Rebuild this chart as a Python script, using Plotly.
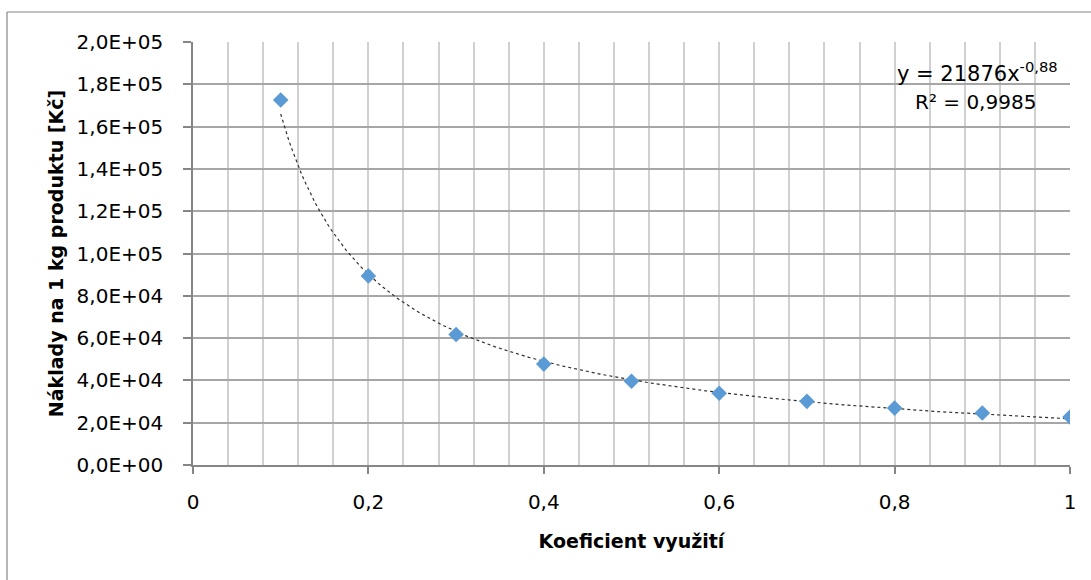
import numpy as np
import plotly.graph_objects as go

# Data
x_vals = [0.1, 0.2, 0.3, 0.4, 0.5, 0.6, 0.7, 0.8, 0.9, 1.0]
y_vals = [172600, 89400, 61700, 47700, 39600, 33900, 30100, 26900, 24600, 22700]

# Power trendline as displayed in the chart: y = 21876 x^-0.88
TREND_A = 21876
TREND_B = -0.88

x_ticks = [0, 0.2, 0.4, 0.6, 0.8, 1.0]
x_ticktext = ["0", "0,2", "0,4", "0,6", "0,8", "1"]
y_ticks = [0, 20000, 40000, 60000, 80000, 100000, 120000, 140000, 160000, 180000, 200000]
y_ticktext = ["0,0E+00", "2,0E+04", "4,0E+04", "6,0E+04", "8,0E+04", "1,0E+05",
              "1,2E+05", "1,4E+05", "1,6E+05", "1,8E+05", "2,0E+05"]

FONT = "DejaVu Sans"

tx = np.linspace(min(x_vals), max(x_vals), 300)
ty = TREND_A * tx ** TREND_B

fig = go.Figure()
fig.add_trace(go.Scatter(
    x=tx, y=ty, mode="lines",
    line=dict(color="#303030", width=1.2, dash="dot"),
    hoverinfo="skip", showlegend=False,
))
fig.add_trace(go.Scatter(
    x=x_vals, y=y_vals, mode="markers",
    marker=dict(symbol="diamond", size=12, color="#5B9BD5", line=dict(width=0)),
    showlegend=False,
))

fig.update_layout(
    width=1091, height=580, autosize=False,
    margin=dict(l=193, r=21, t=42, b=115, pad=0),
    paper_bgcolor="white", plot_bgcolor="white",
    font=dict(family=FONT, color="black"),
    xaxis=dict(
        range=[0, 1], tickvals=x_ticks, ticktext=x_ticktext,
        showgrid=True, gridcolor="#D0D0D0", gridwidth=1.5,
        minor=dict(dtick=0.04, tick0=0, showgrid=True, gridcolor="#D0D0D0", gridwidth=1.5),
        showline=True, linecolor="#868686", linewidth=1.5,
        ticks="outside", ticklen=7, tickcolor="#868686", tickwidth=1.5,
        tickfont=dict(size=20, family=FONT, color="black"),
        ticklabelstandoff=11,
        zeroline=False,
        title=dict(text="<b>Koeficient využití</b>", font=dict(size=19, family=FONT, color="black"), standoff=22),
    ),
    yaxis=dict(
        range=[0, 200000], tickvals=y_ticks, ticktext=y_ticktext,
        showgrid=True, gridcolor="#A6A6A6", gridwidth=1.5,
        showline=True, linecolor="#868686", linewidth=1.5,
        ticks="outside", ticklen=8, tickcolor="#868686", tickwidth=1.5,
        tickfont=dict(size=20, family=FONT, color="black"),
        ticklabelstandoff=16,
        zeroline=False,
        title=dict(text="<b>Náklady na 1 kg produktu [Kč]</b>", font=dict(size=19, family=FONT, color="black"), standoff=8),
    ),
    annotations=[
        dict(xref="paper", yref="paper", x=0.8945, y=0.929, xanchor="center", yanchor="middle",
             text="y = 21876x<sup>-0,88</sup>", showarrow=False, font=dict(size=21, family=FONT, color="black")),
        dict(xref="paper", yref="paper", x=0.8928, y=0.858, xanchor="center", yanchor="middle",
             text="R² = 0,9985", showarrow=False, font=dict(size=20, family=FONT, color="black")),
    ],
    shapes=[
        dict(type="line", xref="paper", yref="paper", x0=-0.2121, y0=1.0709, x1=1.2, y1=1.0709,
             line=dict(color="#868686", width=1.2)),
        dict(type="line", xref="paper", yref="paper", x0=-0.2121, y0=1.0709, x1=-0.2121, y1=-0.5,
             line=dict(color="#868686", width=1.2)),
    ],
)

fig.write_html("out.html")
